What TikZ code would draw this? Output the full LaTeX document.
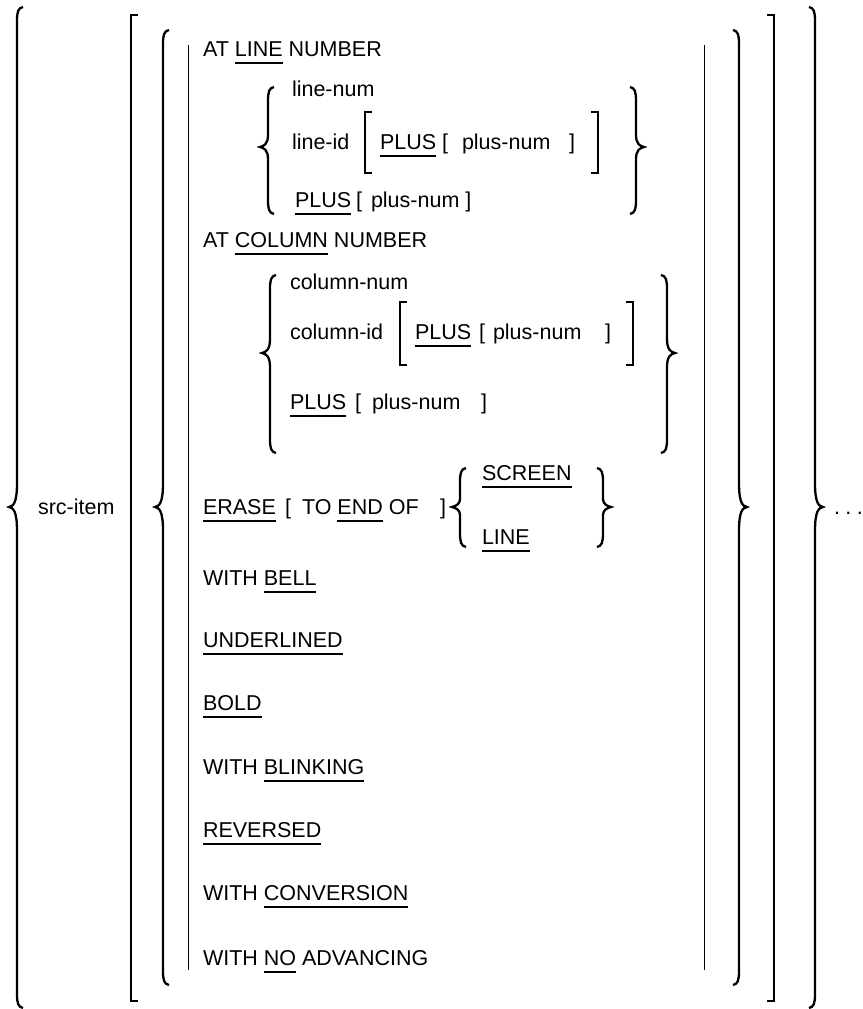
\documentclass[tikz,border=0pt]{standalone}
\usepackage{fontspec}
\setmainfont{Liberation Sans}
\newsavebox\ulbox
\newcommand\ulx[1]{\sbox\ulbox{#1}\rlap{\rule[-7.5pt]{\wd\ulbox}{2pt}}\usebox\ulbox}
% left brace: x, top, tip y, bottom, half tip height
\newcommand\BraceL[5]{%
  \draw[bracestyle] ({#1+6},#2) .. controls ({#1+1},{#2+1}) and (#1,{#2+5}) .. (#1,{#2+14})
    -- (#1,{#3-#5}) .. controls (#1,{#3-3}) and ({#1-4},{#3-1}) .. ({#1-8},#3)
    .. controls ({#1-4},{#3+1}) and (#1,{#3+3}) .. (#1,{#3+#5})
    -- (#1,{#4-14}) .. controls (#1,{#4-5}) and ({#1+1},{#4-1}) .. ({#1+6},#4);}
\newcommand\BraceR[5]{%
  \draw[bracestyle] ({#1-6},#2) .. controls ({#1-1},{#2+1}) and (#1,{#2+5}) .. (#1,{#2+14})
    -- (#1,{#3-#5}) .. controls (#1,{#3-3}) and ({#1+4},{#3-1}) .. ({#1+8},#3)
    .. controls ({#1+4},{#3+1}) and (#1,{#3+3}) .. (#1,{#3+#5})
    -- (#1,{#4-14}) .. controls (#1,{#4-5}) and ({#1-1},{#4-1}) .. ({#1-6},#4);}
\newcommand\BrackL[3]{\draw[brackstyle] ({#1+7},#2) -- (#1,#2) -- (#1,#3) -- ({#1+7},#3);}
\newcommand\BrackR[3]{\draw[brackstyle] ({#1-7},#2) -- (#1,#2) -- (#1,#3) -- ({#1-7},#3);}
\tikzset{
  bracestyle/.style={line width=2.3pt, line cap=butt},
  brackstyle/.style={line width=1.8pt, line join=miter},
  thinline/.style={line width=1pt},
  txt/.style={anchor=base west, inner sep=0pt, outer sep=0pt, font=\fontsize{21.5}{25}\selectfont},
}
\begin{document}
\begin{tikzpicture}[x=1pt,y=-1pt]
\useasboundingbox (0,0) rectangle (862,1009);
% outer structure
\BraceL{17}{7}{507}{1008}{24}
\BraceR{815}{7}{507}{1008}{24}
\BrackL{131}{15}{1001}
\BrackR{774}{15}{1001}
\BraceL{163}{30}{507}{985}{24}
\BraceR{739}{30}{507}{985}{24}
\coordinate (tl1) at (188,45); \coordinate (tl2) at (188,970);
\coordinate (tr1) at (704,45); \coordinate (tr2) at (704,970);
\draw[thinline] (tl1) -- (tl2);
\draw[thinline] (tr1) -- (tr2);
\node[txt] (src) at (38,514) {src-item};
\node[txt] (dots) at (834,514) {.\hspace{5.5pt}.\hspace{5.5pt}.};
% AT LINE NUMBER group
\node[txt] (n1) at (203,56) {AT \ulx{LINE} NUMBER};
\BraceL{268}{87}{147}{214}{12}
\BraceR{636}{87}{147}{214}{12}
\node[txt] (n2) at (292,96) {line-num};
\node[txt] (n3) at (292,149) {line-id};
\BrackL{365}{112}{173}
\node[txt] (n4) at (380,149) {\ulx{PLUS}};
\node[txt] (n5) at (442,149) {[};
\node[txt] (n6) at (462,149) {plus-num};
\node[txt] (n7) at (569,149) {]};
\BrackR{598}{112}{173}
\node[txt] (n8) at (295,207) {\ulx{PLUS}};
\node[txt] (n9) at (356,207) {[};
\node[txt] (n10) at (371,207) {plus-num};
\node[txt] (n11) at ([xshift=6pt]n10.base east) {]};
% AT COLUMN NUMBER group
\node[txt] (n12) at (203,247) {AT \ulx{COLUMN} NUMBER};
\BraceL{270}{275}{353}{453}{14}
\BraceR{667}{275}{353}{453}{14}
\node[txt] (n13) at (290,289) {column-num};
\node[txt] (n14) at (290,339) {column-id};
\BrackL{400}{302}{365}
\node[txt] (n15) at (415,339) {\ulx{PLUS}};
\node[txt] (n16) at (479,339) {[};
\node[txt] (n17) at (493,339) {plus-num};
\node[txt] (n18) at (605,339) {]};
\BrackR{633}{302}{365}
\node[txt] (n19) at (290,409) {\ulx{PLUS}};
\node[txt] (n20) at (355,409) {[};
\node[txt] (n21) at (372,409) {plus-num};
\node[txt] (n22) at (481,409) {]};
% ERASE
\node[txt] (n23) at (203,514) {\ulx{ERASE}};
\node[txt] (n24) at (285,514) {[};
\node[txt] (n25) at (302,514) {TO \ulx{END} OF};
\node[txt] (n26) at (440,514) {]};
\BraceL{460}{468}{507}{547}{8}
\BraceR{603}{468}{507}{547}{8}
\node[txt] (n27) at (482,480) {\ulx{SCREEN}};
\node[txt] (n28) at (482,544) {\ulx{LINE}};
% remaining items
\node[txt] (n29) at (203,585) {WITH \ulx{BELL}};
\node[txt] (n30) at (203,647) {\ulx{UNDERLINED}};
\node[txt] (n31) at (203,710) {\ulx{BOLD}};
\node[txt] (n32) at (203,774) {WITH \ulx{BLINKING}};
\node[txt] (n33) at (203,837) {\ulx{REVERSED}};
\node[txt] (n34) at (203,900) {WITH \ulx{CONVERSION}};
\node[txt] (n35) at (203,965) {WITH \ulx{NO} ADVANCING};
\end{tikzpicture}
\end{document}
